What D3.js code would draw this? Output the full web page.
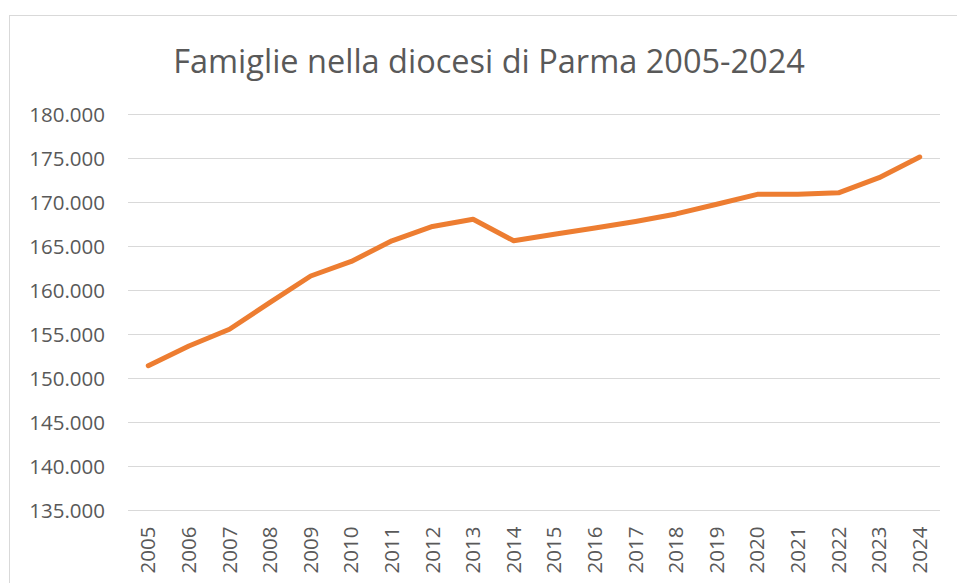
<!DOCTYPE html>
<head>
  <meta charset="utf-8">
  <style>
    body { margin: 0; background: #fff; }
    .axis text { font-family: 'Open Sans', sans-serif; font-size: 20.5px; fill: #595959; }
    .grid line { stroke: #d9d9d9; stroke-width: 1.5; shape-rendering: crispEdges; }
  </style>
  <script src="https://cdn.jsdelivr.net/npm/d3@7"></script>
</head>
<body>
  <script>
    // anni e numero di famiglie
    const years = ['2005', '2006', '2007', '2008', '2009', '2010', '2011', '2012', '2013', '2014',
                   '2015', '2016', '2017', '2018', '2019', '2020', '2021', '2022', '2023', '2024'];
    const families = [151450, 153700, 155600, 158650, 161650, 163300, 165650, 167280, 168100, 165650,
                      166400, 167100, 167850, 168700, 169800, 170930, 170930, 171100, 172820, 175170];
    const yTicks = [135000, 140000, 145000, 150000, 155000, 160000, 165000, 170000, 175000, 180000];

    const w = 957, h = 583;
    const plotLeft = 128, plotRight = 940, plotTop = 114.5, plotBottom = 510.5;

    const svg = d3.select('body').append('svg')
      .attr('width', w)
      .attr('height', h);

    // cornice del grafico
    svg.append('rect')
      .attr('x', 9.5).attr('y', 15.5)
      .attr('width', w + 20).attr('height', h + 20)
      .attr('fill', 'none')
      .attr('stroke', '#d9d9d9');

    svg.append('text')
      .attr('x', 489)
      .attr('y', 73)
      .attr('text-anchor', 'middle')
      .attr('font-family', "'Open Sans', sans-serif")
      .attr('font-size', '32.5px')
      .attr('fill', '#595959')
      .text('Famiglie nella diocesi di Parma 2005-2024');

    const xScale = d3.scaleBand()
      .domain(years)
      .range([plotLeft, plotRight]);

    const yScale = d3.scaleLinear()
      .domain([135000, 180000])
      .range([plotBottom, plotTop]);

    const fmt = d3.formatLocale({ decimal: ',', thousands: '.', grouping: [3], currency: ['€', ''] }).format(',.0f');

    // griglia orizzontale
    svg.append('g')
      .attr('class', 'grid')
      .selectAll('line')
      .data(yTicks)
      .enter()
      .append('line')
      .attr('x1', plotLeft).attr('x2', plotRight)
      .attr('y1', d => yScale(d)).attr('y2', d => yScale(d));

    const yAxis = d3.axisLeft(yScale).tickValues(yTicks).tickFormat(fmt).tickSize(0).tickPadding(23);
    svg.append('g')
      .attr('class', 'y axis')
      .attr('transform', `translate(${plotLeft}, 0)`)
      .call(yAxis)
      .call(g => g.select('.domain').remove())
      .selectAll('text')
      .attr('dy', '0.35em');

    const xAxis = d3.axisBottom(xScale).tickSize(0);
    svg.append('g')
      .attr('class', 'x axis')
      .attr('transform', `translate(0, ${plotBottom})`)
      .call(xAxis)
      .call(g => g.select('.domain').remove())
      .selectAll('text')
      .attr('transform', 'rotate(-90)')
      .attr('text-anchor', 'end')
      .attr('x', -16)
      .attr('y', 0)
      .attr('dy', '0.35em');

    const line = d3.line()
      .x((d, i) => xScale(years[i]) + xScale.bandwidth() / 2)
      .y(d => yScale(d));

    svg.append('path')
      .datum(families)
      .attr('d', line)
      .attr('fill', 'none')
      .attr('stroke', '#ed7d31')
      .attr('stroke-width', 5)
      .attr('stroke-linecap', 'round')
      .attr('stroke-linejoin', 'round');
  </script>
</body>
